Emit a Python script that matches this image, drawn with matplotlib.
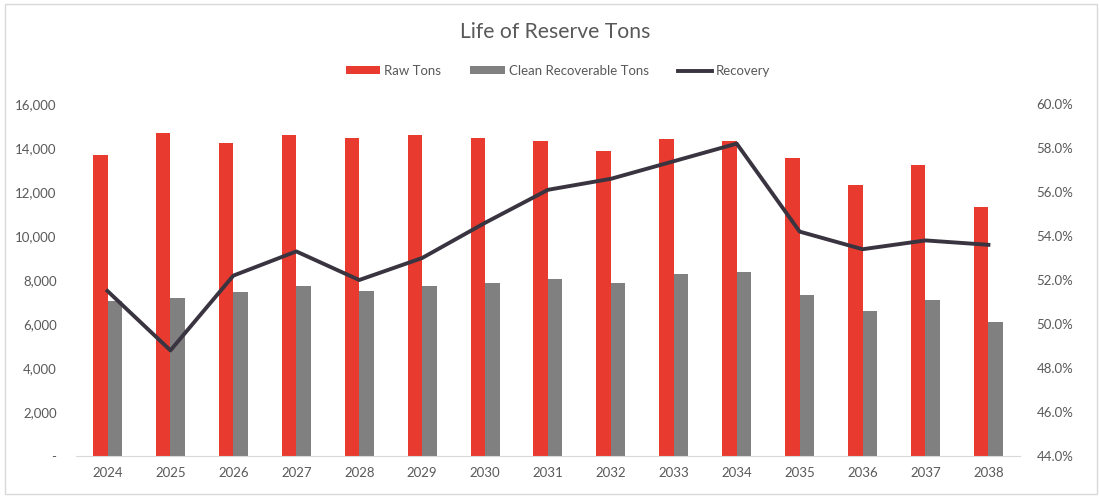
import matplotlib
matplotlib.use('Agg')
import matplotlib.pyplot as plt
from matplotlib.ticker import FuncFormatter
from matplotlib.patches import Rectangle
import numpy as np

plt.rcParams['font.family'] = ['Lato', 'DejaVu Sans']

years = ['2024', '2025', '2026', '2027', '2028', '2029', '2030', '2031',
         '2032', '2033', '2034', '2035', '2036', '2037', '2038']
raw_tons = [13700, 14700, 14230, 14580, 14470, 14580, 14470, 14330,
            13880, 14400, 14330, 13530, 12330, 13240, 11300]
clean_tons = [7060, 7170, 7450, 7740, 7510, 7740, 7860, 8030,
              7860, 8260, 8380, 7330, 6590, 7100, 6080]
recovery = [51.5, 48.8, 52.2, 53.3, 52.0, 53.0, 54.6, 56.1,
            56.6, 57.4, 58.2, 54.2, 53.4, 53.8, 53.6]

RED = '#E83A2F'
GREY = '#808080'
LINE = '#3A3440'
TXT = '#595959'

fig = plt.figure(figsize=(10.99, 4.96), dpi=100)
ax = fig.add_axes([0.0692, 0.0806, 0.8588, 0.7097])
ax2 = ax.twinx()

x = np.arange(len(years))
w = 0.23
ax.bar(x - w / 2, raw_tons, w, color=RED, label='Raw Tons', zorder=2)
ax.bar(x + w / 2, clean_tons, w, color=GREY, label='Clean Recoverable Tons', zorder=2)
ax2.plot(x, recovery, color=LINE, lw=2.8, label='Recovery', zorder=3)

ax.set_xlim(-0.5, len(years) - 0.5)
ax.set_ylim(0, 16000)
ax.set_yticks(np.arange(0, 16001, 2000))
ax.yaxis.set_major_formatter(FuncFormatter(lambda v, p: '-' if v == 0 else f'{int(v):,}'))
ax2.set_ylim(44, 60)
ax2.set_yticks(np.arange(44, 60.1, 2))
ax2.yaxis.set_major_formatter(FuncFormatter(lambda v, p: f'{v:.1f}%'))

ax.set_xticks(x)
ax.set_xticklabels(years)

for a in (ax, ax2):
    for s in a.spines.values():
        s.set_visible(False)
    a.tick_params(length=0, labelsize=9.5, colors=TXT)
ax.spines['bottom'].set_visible(True)
ax.spines['bottom'].set_color('#D9D9D9')
ax.tick_params(axis='y', pad=14)
ax.tick_params(axis='x', pad=8)
ax2.tick_params(axis='y', pad=12)

fig.text(0.505, 0.935, 'Life of Reserve Tons', ha='center', va='center',
         fontsize=15.2, color=TXT)

h1, l1 = ax.get_legend_handles_labels()
h2, l2 = ax2.get_legend_handles_labels()
fig.legend(h1 + h2, l1 + l2, loc='center', bbox_to_anchor=(0.508, 0.857),
           ncol=3, frameon=False, fontsize=9.5, labelcolor=TXT,
           handlelength=2.6, handletextpad=0.3, columnspacing=2.2,
           handleheight=0.5)

# thin frame round the whole chart
fig.patches.append(Rectangle((0.005, 0.004), 0.993, 0.988, transform=fig.transFigure,
                             fill=False, edgecolor='#D9D9D9', lw=1))

fig.savefig('out.png', dpi=100, facecolor='white')
